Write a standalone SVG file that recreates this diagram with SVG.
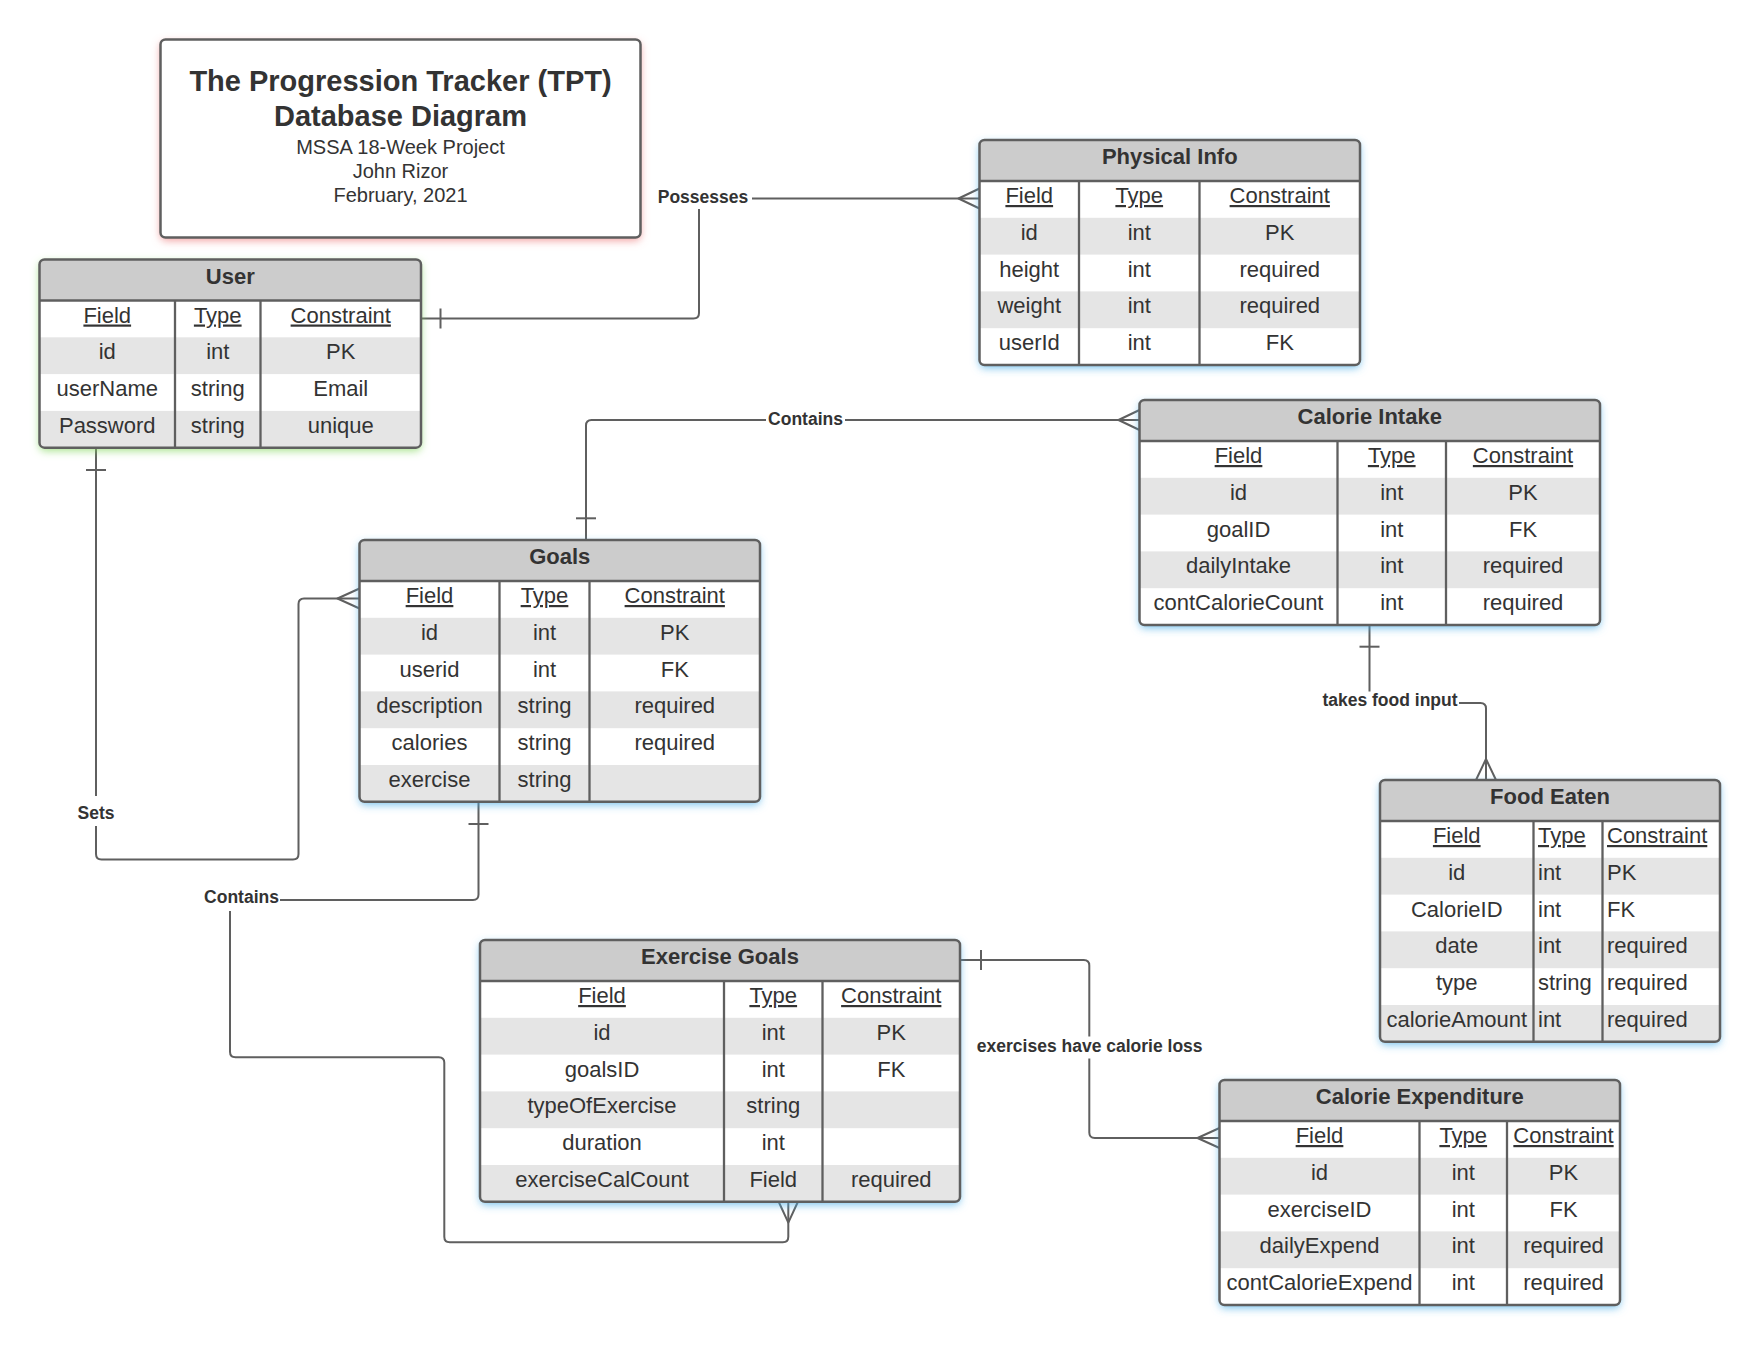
<svg xmlns="http://www.w3.org/2000/svg" width="1760" height="1345" viewBox="0 0 1760 1345">
<style>
.t{font-family:"Liberation Sans",Arial,Helvetica,sans-serif;fill:#333333}
.hh{font-size:22px;font-weight:bold;text-anchor:middle}
.c{font-size:22px;text-anchor:middle}
.l{font-size:22px;text-anchor:start}
.u{text-decoration:underline}
.lbl{font-family:"Liberation Sans",Arial,Helvetica,sans-serif;fill:#333333;font-size:17.5px;font-weight:bold;text-anchor:middle}
.box{fill:#ffffff}
.bd{fill:none;stroke:#5f5f5f;stroke-width:2.5}
.hd{fill:#cccccc}
.alt{fill:#e5e5e5}
.ln{stroke:#5f5f5f;stroke-width:2.3}
.cn{fill:none;stroke:#5f5f5f;stroke-width:2;stroke-linejoin:round}
.bg{fill:#ffffff}
</style>
<defs>
<filter id="glowB" x="-10%" y="-10%" width="120%" height="125%"><feDropShadow dx="0" dy="3" stdDeviation="4.5" flood-color="#48aee8" flood-opacity="0.75"/></filter>
<filter id="glowG" x="-10%" y="-10%" width="120%" height="125%"><feDropShadow dx="0" dy="3" stdDeviation="4.5" flood-color="#84d860" flood-opacity="0.75"/></filter>
<filter id="glowR" x="-10%" y="-10%" width="120%" height="125%"><feDropShadow dx="0" dy="3" stdDeviation="4.5" flood-color="#ee7e7e" flood-opacity="0.75"/></filter>
<clipPath id="cUser"><rect x="39.5" y="259.5" width="381.5" height="188.2" rx="5"/></clipPath>
<clipPath id="cPhys"><rect x="979.5" y="140" width="380.5" height="225" rx="5"/></clipPath>
<clipPath id="cCI"><rect x="1139.5" y="400" width="460.5" height="225" rx="5"/></clipPath>
<clipPath id="cGoals"><rect x="359.5" y="540" width="400.5" height="261.8" rx="5"/></clipPath>
<clipPath id="cFood"><rect x="1380" y="780" width="340" height="261.8" rx="5"/></clipPath>
<clipPath id="cEx"><rect x="480" y="940" width="480" height="261.8" rx="5"/></clipPath>
<clipPath id="cCE"><rect x="1219.5" y="1080" width="400.5" height="225" rx="5"/></clipPath>
</defs>

<g id="connectors">
 <!-- Possesses -->
 <path class="cn" d="M421,318.5 H693.5 Q699,318.5 699,313 V198.5 H979.5"/>
 <path class="cn" d="M440.5,308.5 V328.5"/>
 <path class="cn" d="M979.5,188.5 L958.5,198.5 L979.5,208.5"/>
 <rect class="bg" x="654" y="186" width="98" height="23"/>
 <text class="lbl" x="703" y="202.5">Possesses</text>
 <!-- Contains (Goals - Calorie Intake) -->
 <path class="cn" d="M586,540 V425.5 Q586,420 591.5,420 H1139.5"/>
 <path class="cn" d="M576,518.3 H596"/>
 <path class="cn" d="M1139.5,410 L1118.5,420 L1139.5,430"/>
 <rect class="bg" x="766" y="408" width="79" height="23"/>
 <text class="lbl" x="805.5" y="424.5">Contains</text>
 <!-- Sets -->
 <path class="cn" d="M96,448 V854 Q96,859.5 101.5,859.5 H293 Q298.5,859.5 298.5,854 V604 Q298.5,598.5 304,598.5 H359.5"/>
 <path class="cn" d="M86,470 H106"/>
 <path class="cn" d="M359.5,588.5 L337.5,598.5 L359.5,608.5"/>
 <rect class="bg" x="76" y="796" width="40" height="30"/>
 <text class="lbl" x="96" y="819">Sets</text>
 <!-- Contains (Goals - Exercise Goals) -->
 <path class="cn" d="M478.5,802 V894.5 Q478.5,900 473,900 H235.5 Q230,900 230,905.5 V1051.8 Q230,1057.3 235.5,1057.3 H438.8 Q444.3,1057.3 444.3,1062.8 V1236.8 Q444.3,1242.3 449.8,1242.3 H782.8 Q788.3,1242.3 788.3,1236.8 V1202"/>
 <path class="cn" d="M468.5,824 H488.5"/>
 <path class="cn" d="M778.8,1202 L788.3,1222.7 L797.8,1202"/>
 <rect class="bg" x="203" y="884" width="77" height="27"/>
 <text class="lbl" x="241.5" y="903">Contains</text>
 <!-- takes food input -->
 <path class="cn" d="M1369.5,625 V703 H1480.5 Q1486,703 1486,708.5 V780"/>
 <path class="cn" d="M1359.5,646.7 H1379.5"/>
 <path class="cn" d="M1476,780 L1486,759 L1496,780"/>
 <rect class="bg" x="1320" y="691.5" width="139" height="22"/>
 <text class="lbl" x="1390" y="706">takes food input</text>
 <!-- exercises have calorie loss -->
 <path class="cn" d="M960,960 H1083.8 Q1089.3,960 1089.3,965.5 V1132.5 Q1089.3,1138 1094.8,1138 H1219.5"/>
 <path class="cn" d="M981,950 V970"/>
 <path class="cn" d="M1219.5,1128 L1197.5,1138 L1219.5,1148"/>
 <rect class="bg" x="975" y="1036.5" width="230" height="22"/>
 <text class="lbl" x="1089.7" y="1052.2">exercises have calorie loss</text>
</g>

<g id="title" class="t">
 <rect class="box" x="160.5" y="39.5" width="480" height="198" rx="5" filter="url(#glowR)"/>
 <rect class="bd" x="160.5" y="39.5" width="480" height="198" rx="5"/>
 <text x="400.5" y="90.5" style="font-size:29px;font-weight:bold;text-anchor:middle">The Progression Tracker (TPT)</text>
 <text x="400.5" y="125.5" style="font-size:29px;font-weight:bold;text-anchor:middle">Database Diagram</text>
 <text x="400.5" y="153.5" style="font-size:20px;text-anchor:middle">MSSA 18-Week Project</text>
 <text x="400.5" y="177.5" style="font-size:20px;text-anchor:middle">John Rizor</text>
 <text x="400.5" y="201.5" style="font-size:20px;text-anchor:middle">February, 2021</text>
</g>

<g id="user" class="t">
 <rect class="box" x="39.5" y="259.5" width="381.5" height="188.2" rx="5" filter="url(#glowG)"/>
 <g clip-path="url(#cUser)">
  <rect class="hd" x="39.5" y="259.5" width="381.5" height="41"/>
  <rect class="alt" x="39.5" y="337.3" width="381.5" height="36.8"/>
  <rect class="alt" x="39.5" y="410.9" width="381.5" height="36.8"/>
 </g>
 <line class="ln" x1="39.5" y1="300.5" x2="421" y2="300.5"/>
 <line class="ln" x1="175" y1="300.5" x2="175" y2="447.7"/>
 <line class="ln" x1="260.5" y1="300.5" x2="260.5" y2="447.7"/>
 <rect class="bd" x="39.5" y="259.5" width="381.5" height="188.2" rx="5"/>
 <text class="hh" x="230.25" y="283.5">User</text>
 <text class="c u" x="107.25" y="322.5">Field</text><text class="c u" x="217.75" y="322.5">Type</text><text class="c u" x="340.75" y="322.5">Constraint</text>
 <text class="c" x="107.25" y="359.3">id</text><text class="c" x="217.75" y="359.3">int</text><text class="c" x="340.75" y="359.3">PK</text>
 <text class="c" x="107.25" y="396.1">userName</text><text class="c" x="217.75" y="396.1">string</text><text class="c" x="340.75" y="396.1">Email</text>
 <text class="c" x="107.25" y="432.9">Password</text><text class="c" x="217.75" y="432.9">string</text><text class="c" x="340.75" y="432.9">unique</text>
</g>

<g id="physical-info" class="t">
 <rect class="box" x="979.5" y="140" width="380.5" height="225" rx="5" filter="url(#glowB)"/>
 <g clip-path="url(#cPhys)">
  <rect class="hd" x="979.5" y="140" width="380.5" height="41"/>
  <rect class="alt" x="979.5" y="217.8" width="380.5" height="36.8"/>
  <rect class="alt" x="979.5" y="291.4" width="380.5" height="36.8"/>
 </g>
 <line class="ln" x1="979.5" y1="181" x2="1360" y2="181"/>
 <line class="ln" x1="1079" y1="181" x2="1079" y2="365"/>
 <line class="ln" x1="1199.5" y1="181" x2="1199.5" y2="365"/>
 <rect class="bd" x="979.5" y="140" width="380.5" height="225" rx="5"/>
 <text class="hh" x="1169.75" y="164">Physical Info</text>
 <text class="c u" x="1029.25" y="203">Field</text><text class="c u" x="1139.25" y="203">Type</text><text class="c u" x="1279.75" y="203">Constraint</text>
 <text class="c" x="1029.25" y="239.8">id</text><text class="c" x="1139.25" y="239.8">int</text><text class="c" x="1279.75" y="239.8">PK</text>
 <text class="c" x="1029.25" y="276.6">height</text><text class="c" x="1139.25" y="276.6">int</text><text class="c" x="1279.75" y="276.6">required</text>
 <text class="c" x="1029.25" y="313.4">weight</text><text class="c" x="1139.25" y="313.4">int</text><text class="c" x="1279.75" y="313.4">required</text>
 <text class="c" x="1029.25" y="350.2">userId</text><text class="c" x="1139.25" y="350.2">int</text><text class="c" x="1279.75" y="350.2">FK</text>
</g>

<g id="calorie-intake" class="t">
 <rect class="box" x="1139.5" y="400" width="460.5" height="225" rx="5" filter="url(#glowB)"/>
 <g clip-path="url(#cCI)">
  <rect class="hd" x="1139.5" y="400" width="460.5" height="41"/>
  <rect class="alt" x="1139.5" y="477.8" width="460.5" height="36.8"/>
  <rect class="alt" x="1139.5" y="551.4" width="460.5" height="36.8"/>
 </g>
 <line class="ln" x1="1139.5" y1="441" x2="1600" y2="441"/>
 <line class="ln" x1="1337.5" y1="441" x2="1337.5" y2="625"/>
 <line class="ln" x1="1446" y1="441" x2="1446" y2="625"/>
 <rect class="bd" x="1139.5" y="400" width="460.5" height="225" rx="5"/>
 <text class="hh" x="1369.75" y="424">Calorie Intake</text>
 <text class="c u" x="1238.5" y="463">Field</text><text class="c u" x="1391.75" y="463">Type</text><text class="c u" x="1523" y="463">Constraint</text>
 <text class="c" x="1238.5" y="499.8">id</text><text class="c" x="1391.75" y="499.8">int</text><text class="c" x="1523" y="499.8">PK</text>
 <text class="c" x="1238.5" y="536.6">goalID</text><text class="c" x="1391.75" y="536.6">int</text><text class="c" x="1523" y="536.6">FK</text>
 <text class="c" x="1238.5" y="573.4">dailyIntake</text><text class="c" x="1391.75" y="573.4">int</text><text class="c" x="1523" y="573.4">required</text>
 <text class="c" x="1238.5" y="610.2">contCalorieCount</text><text class="c" x="1391.75" y="610.2">int</text><text class="c" x="1523" y="610.2">required</text>
</g>

<g id="goals" class="t">
 <rect class="box" x="359.5" y="540" width="400.5" height="261.8" rx="5" filter="url(#glowB)"/>
 <g clip-path="url(#cGoals)">
  <rect class="hd" x="359.5" y="540" width="400.5" height="41"/>
  <rect class="alt" x="359.5" y="617.8" width="400.5" height="36.8"/>
  <rect class="alt" x="359.5" y="691.4" width="400.5" height="36.8"/>
  <rect class="alt" x="359.5" y="765" width="400.5" height="36.8"/>
 </g>
 <line class="ln" x1="359.5" y1="581" x2="760" y2="581"/>
 <line class="ln" x1="499.5" y1="581" x2="499.5" y2="801.8"/>
 <line class="ln" x1="589.5" y1="581" x2="589.5" y2="801.8"/>
 <rect class="bd" x="359.5" y="540" width="400.5" height="261.8" rx="5"/>
 <text class="hh" x="559.75" y="564">Goals</text>
 <text class="c u" x="429.5" y="603">Field</text><text class="c u" x="544.5" y="603">Type</text><text class="c u" x="674.75" y="603">Constraint</text>
 <text class="c" x="429.5" y="639.8">id</text><text class="c" x="544.5" y="639.8">int</text><text class="c" x="674.75" y="639.8">PK</text>
 <text class="c" x="429.5" y="676.6">userid</text><text class="c" x="544.5" y="676.6">int</text><text class="c" x="674.75" y="676.6">FK</text>
 <text class="c" x="429.5" y="713.4">description</text><text class="c" x="544.5" y="713.4">string</text><text class="c" x="674.75" y="713.4">required</text>
 <text class="c" x="429.5" y="750.2">calories</text><text class="c" x="544.5" y="750.2">string</text><text class="c" x="674.75" y="750.2">required</text>
 <text class="c" x="429.5" y="787">exercise</text><text class="c" x="544.5" y="787">string</text>
</g>

<g id="food-eaten" class="t">
 <rect class="box" x="1380" y="780" width="340" height="261.8" rx="5" filter="url(#glowB)"/>
 <g clip-path="url(#cFood)">
  <rect class="hd" x="1380" y="780" width="340" height="41"/>
  <rect class="alt" x="1380" y="857.8" width="340" height="36.8"/>
  <rect class="alt" x="1380" y="931.4" width="340" height="36.8"/>
  <rect class="alt" x="1380" y="1005" width="340" height="36.8"/>
 </g>
 <line class="ln" x1="1380" y1="821" x2="1720" y2="821"/>
 <line class="ln" x1="1533.5" y1="821" x2="1533.5" y2="1041.8"/>
 <line class="ln" x1="1602.5" y1="821" x2="1602.5" y2="1041.8"/>
 <rect class="bd" x="1380" y="780" width="340" height="261.8" rx="5"/>
 <text class="hh" x="1550" y="804">Food Eaten</text>
 <text class="c u" x="1456.75" y="843">Field</text><text class="l u" x="1538" y="843">Type</text><text class="l u" x="1607" y="843">Constraint</text>
 <text class="c" x="1456.75" y="879.8">id</text><text class="l" x="1538" y="879.8">int</text><text class="l" x="1607" y="879.8">PK</text>
 <text class="c" x="1456.75" y="916.6">CalorieID</text><text class="l" x="1538" y="916.6">int</text><text class="l" x="1607" y="916.6">FK</text>
 <text class="c" x="1456.75" y="953.4">date</text><text class="l" x="1538" y="953.4">int</text><text class="l" x="1607" y="953.4">required</text>
 <text class="c" x="1456.75" y="990.2">type</text><text class="l" x="1538" y="990.2">string</text><text class="l" x="1607" y="990.2">required</text>
 <text class="c" x="1456.75" y="1027">calorieAmount</text><text class="l" x="1538" y="1027">int</text><text class="l" x="1607" y="1027">required</text>
</g>

<g id="exercise-goals" class="t">
 <rect class="box" x="480" y="940" width="480" height="261.8" rx="5" filter="url(#glowB)"/>
 <g clip-path="url(#cEx)">
  <rect class="hd" x="480" y="940" width="480" height="41"/>
  <rect class="alt" x="480" y="1017.8" width="480" height="36.8"/>
  <rect class="alt" x="480" y="1091.4" width="480" height="36.8"/>
  <rect class="alt" x="480" y="1165" width="480" height="36.8"/>
 </g>
 <line class="ln" x1="480" y1="981" x2="960" y2="981"/>
 <line class="ln" x1="724" y1="981" x2="724" y2="1201.8"/>
 <line class="ln" x1="822.5" y1="981" x2="822.5" y2="1201.8"/>
 <rect class="bd" x="480" y="940" width="480" height="261.8" rx="5"/>
 <text class="hh" x="720" y="964">Exercise Goals</text>
 <text class="c u" x="602" y="1003">Field</text><text class="c u" x="773.25" y="1003">Type</text><text class="c u" x="891.25" y="1003">Constraint</text>
 <text class="c" x="602" y="1039.8">id</text><text class="c" x="773.25" y="1039.8">int</text><text class="c" x="891.25" y="1039.8">PK</text>
 <text class="c" x="602" y="1076.6">goalsID</text><text class="c" x="773.25" y="1076.6">int</text><text class="c" x="891.25" y="1076.6">FK</text>
 <text class="c" x="602" y="1113.4">typeOfExercise</text><text class="c" x="773.25" y="1113.4">string</text>
 <text class="c" x="602" y="1150.2">duration</text><text class="c" x="773.25" y="1150.2">int</text>
 <text class="c" x="602" y="1187">exerciseCalCount</text><text class="c" x="773.25" y="1187">Field</text><text class="c" x="891.25" y="1187">required</text>
</g>

<g id="calorie-expenditure" class="t">
 <rect class="box" x="1219.5" y="1080" width="400.5" height="225" rx="5" filter="url(#glowB)"/>
 <g clip-path="url(#cCE)">
  <rect class="hd" x="1219.5" y="1080" width="400.5" height="41"/>
  <rect class="alt" x="1219.5" y="1157.8" width="400.5" height="36.8"/>
  <rect class="alt" x="1219.5" y="1231.4" width="400.5" height="36.8"/>
 </g>
 <line class="ln" x1="1219.5" y1="1121" x2="1620" y2="1121"/>
 <line class="ln" x1="1419.5" y1="1121" x2="1419.5" y2="1305"/>
 <line class="ln" x1="1507" y1="1121" x2="1507" y2="1305"/>
 <rect class="bd" x="1219.5" y="1080" width="400.5" height="225" rx="5"/>
 <text class="hh" x="1419.75" y="1104">Calorie Expenditure</text>
 <text class="c u" x="1319.5" y="1143">Field</text><text class="c u" x="1463.25" y="1143">Type</text><text class="c u" x="1563.5" y="1143">Constraint</text>
 <text class="c" x="1319.5" y="1179.8">id</text><text class="c" x="1463.25" y="1179.8">int</text><text class="c" x="1563.5" y="1179.8">PK</text>
 <text class="c" x="1319.5" y="1216.6">exerciseID</text><text class="c" x="1463.25" y="1216.6">int</text><text class="c" x="1563.5" y="1216.6">FK</text>
 <text class="c" x="1319.5" y="1253.4">dailyExpend</text><text class="c" x="1463.25" y="1253.4">int</text><text class="c" x="1563.5" y="1253.4">required</text>
 <text class="c" x="1319.5" y="1290.2">contCalorieExpend</text><text class="c" x="1463.25" y="1290.2">int</text><text class="c" x="1563.5" y="1290.2">required</text>
</g>
</svg>
